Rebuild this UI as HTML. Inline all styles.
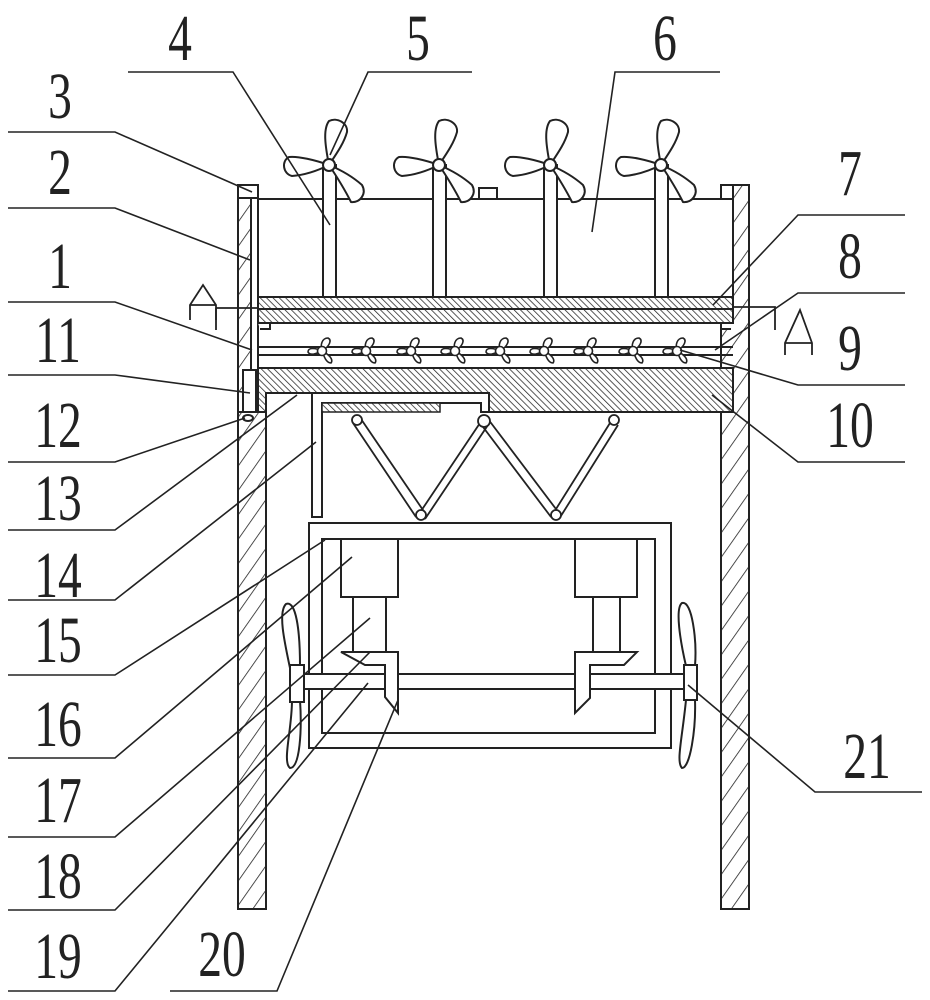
<!DOCTYPE html>
<html><head><meta charset="utf-8"><style>html,body{margin:0;padding:0;background:#fff}svg{display:block}</style></head>
<body>
<svg width="930" height="1000" viewBox="0 0 930 1000" xmlns="http://www.w3.org/2000/svg">
<defs>
<pattern id="hf" width="4.5" height="4.5" patternUnits="userSpaceOnUse" patternTransform="rotate(-45)"><rect width="4.5" height="4.5" fill="#fff"/><line x1="0" y1="0" x2="0" y2="4.5" stroke="#222" stroke-width="1.5"/></pattern>
<pattern id="hp" width="14" height="14" patternUnits="userSpaceOnUse" patternTransform="rotate(35)"><rect width="14" height="14" fill="#fff"/><line x1="0" y1="0" x2="0" y2="14" stroke="#222" stroke-width="1.6"/></pattern>
<g id="fan" fill="#fff" stroke="#222" stroke-width="2">
<path d="M0,0 C-4,-20 -6,-36 0,-44 C8,-48 19,-42 18,-33 C15,-22 8,-12 0,0Z"/>
<path d="M0,0 C-14,-5 -31,-9 -40,-8 C-48,-4 -46,9 -37,11 C-24,10 -12,6 0,0Z"/>
<path d="M0,0 C8,12 16,25 22,37 C31,38 38,29 33,20 C24,12 12,5 0,0Z"/>
<circle cx="0" cy="0" r="6"/>
</g>
<g id="sf" fill="#fff" stroke="#222" stroke-width="1.6">
<path d="M0,0 C-2,-6 0,-13 6,-13 C10,-11 8,-5 0,0Z"/>
<path d="M0,0 C-6,-3 -14,-4 -14,1 C-12,5 -6,3 0,0Z"/>
<path d="M0,0 C2,5 4,12 9,12 C12,8 6,3 0,0Z"/>
<circle cx="0" cy="0" r="4.5"/>
</g>
</defs>

<g stroke="#222" stroke-width="2" fill="none">
<rect x="238" y="185" width="13" height="227" fill="url(#hp)"/>
<rect x="251" y="198" width="7" height="214" fill="#fff"/>
<rect x="238" y="185" width="20" height="13" fill="#fff"/>
<rect x="238" y="412" width="28" height="497" fill="url(#hp)"/>
<rect x="243" y="370" width="13" height="42" fill="#fff"/>
<ellipse cx="248" cy="418" rx="5" ry="3" fill="#fff"/>
<rect x="721" y="185" width="28" height="724" fill="url(#hp)"/>
<rect x="721" y="185" width="12" height="14" fill="#fff"/>

<rect x="258" y="199" width="475" height="98" fill="#fff"/>
<rect x="479" y="188" width="18" height="11" fill="#fff"/>
<rect x="323" y="165" width="13" height="132" fill="#fff"/>
<rect x="433" y="165" width="13" height="132" fill="#fff"/>
<rect x="544" y="165" width="13" height="132" fill="#fff"/>
<rect x="655" y="165" width="13" height="132" fill="#fff"/>
<rect x="258" y="297" width="475" height="26" fill="url(#hf)"/>
<line x1="258" y1="309" x2="733" y2="309"/>
<path d="M258,323 L270,323 L270,329 L260,329" fill="#fff"/>
<path d="M733,323 L721,323 L721,329 L731,329" fill="#fff"/>
<line x1="258" y1="347" x2="733" y2="347"/>
<line x1="258" y1="355" x2="733" y2="355"/>
<path d="M258,368 H733 V412 H489 V393 H266 V412 H258Z" fill="url(#hf)"/>
<path d="M312,393 H489 V412 H481 V403 H322 V517 H312Z" fill="#fff"/>
<rect x="322" y="403" width="118" height="9" fill="url(#hf)" stroke-width="1.5"/>
<g stroke-width="1.8">
<path d="M353,423 L416,517 M361,419 L425,513"/>
<path d="M480,423 L417,517 M488,425 L425,519"/>
<path d="M480,423 L551,517 M488,419 L559,513"/>
<path d="M610,423 L551,517 M618,425 L559,519"/>
</g>
<g fill="#fff" stroke-width="1.8">
<circle cx="357" cy="420" r="5"/><circle cx="484" cy="421" r="6"/><circle cx="614" cy="420" r="5"/>
<circle cx="421" cy="515" r="5"/><circle cx="556" cy="515" r="5"/>
</g>
<rect x="309" y="523" width="362" height="225" fill="#fff"/>
<rect x="322" y="539" width="333" height="194" fill="#fff"/>
<rect x="341" y="539" width="57" height="58" fill="#fff"/>
<rect x="575" y="539" width="62" height="58" fill="#fff"/>
<rect x="353" y="597" width="33" height="55" fill="#fff"/>
<rect x="593" y="597" width="27" height="55" fill="#fff"/>
<rect x="304" y="674" width="380" height="15" fill="#fff"/>
<path d="M341,652 H398 V713 L385,697 V665 H365Z" fill="#fff"/>
<path d="M575,652 H637 L624,665 H590 V698 L575,713Z" fill="#fff"/>
<path d="M290,668 C284,640 278,612 286,604 C296,600 300,630 300,666Z" fill="#fff"/>
<path d="M292,700 C292,730 282,762 290,768 C300,768 302,730 300,700Z" fill="#fff"/>
<path d="M686,666 C680,640 675,608 682,603 C692,600 697,640 695,666Z" fill="#fff"/>
<path d="M686,700 C682,740 676,762 682,768 C690,768 696,730 695,700Z" fill="#fff"/>
<rect x="290" y="665" width="14" height="37" fill="#fff"/>
<rect x="684" y="665" width="13" height="35" fill="#fff"/>

<path d="M190,320 V305 L203,285 L216,305 V320 M190,305 H216" stroke-width="1.8"/>
<path d="M216,308 H258 M216,308 V330" stroke-width="1.8"/>
<path d="M733,307 H775 V330" stroke-width="1.8"/>
<path d="M785,355 V343 L800,310 L812,343 V355 M785,343 H812" stroke-width="1.8"/>
</g>

<use href="#fan" x="329" y="165"/>
<use href="#fan" x="439" y="165"/>
<use href="#fan" x="550" y="165"/>
<use href="#fan" x="661" y="165"/>
<use href="#sf" x="322" y="351"/><use href="#sf" x="366" y="351"/><use href="#sf" x="411" y="351"/>
<use href="#sf" x="455" y="351"/><use href="#sf" x="500" y="351"/><use href="#sf" x="544" y="351"/>
<use href="#sf" x="588" y="351"/><use href="#sf" x="633" y="351"/><use href="#sf" x="677" y="351"/>

<g stroke="#222" stroke-width="1.6" fill="none">
<path d="M128,72 H233 L330,225"/>
<path d="M472,72 H368 L330,155"/>
<path d="M720,72 H615 L592,232"/>
<path d="M8,132 H115 L252,192"/>
<path d="M8,208 H115 L250,260"/>
<path d="M8,302 H115 L252,350"/>
<path d="M8,375 H115 L250,393"/>
<path d="M8,462 H115 L245,418"/>
<path d="M8,530 H115 L297,395"/>
<path d="M8,600 H115 L316,442"/>
<path d="M8,675 H115 L325,540"/>
<path d="M8,758 H115 L352,557"/>
<path d="M8,837 H115 L370,618"/>
<path d="M8,910 H115 L370,652"/>
<path d="M8,991 H115 L368,683"/>
<path d="M170,991 H277 L398,700"/>
<path d="M922,792 H815 L688,685"/>
<path d="M905,215 H798 L713,305"/>
<path d="M905,293 H798 L715,350"/>
<path d="M905,385 H798 L680,350"/>
<path d="M905,462 H798 L712,395"/>
</g>

<g font-family="'Liberation Serif', serif" font-size="66" fill="#222" text-anchor="middle">
<text transform="translate(180,60) scale(0.72,1)">4</text>
<text transform="translate(418,60) scale(0.72,1)">5</text>
<text transform="translate(665,60) scale(0.72,1)">6</text>
<text transform="translate(60,118) scale(0.72,1)">3</text>
<text transform="translate(60,194) scale(0.72,1)">2</text>
<text transform="translate(60,288) scale(0.72,1)">1</text>
<text transform="translate(58,362) scale(0.72,1)">11</text>
<text transform="translate(58,447) scale(0.72,1)">12</text>
<text transform="translate(58,520) scale(0.72,1)">13</text>
<text transform="translate(58,597) scale(0.72,1)">14</text>
<text transform="translate(58,662) scale(0.72,1)">15</text>
<text transform="translate(58,746) scale(0.72,1)">16</text>
<text transform="translate(58,822) scale(0.72,1)">17</text>
<text transform="translate(58,898) scale(0.72,1)">18</text>
<text transform="translate(58,978) scale(0.72,1)">19</text>
<text transform="translate(222,976) scale(0.72,1)">20</text>
<text transform="translate(867,778) scale(0.72,1)">21</text>
<text transform="translate(850,195) scale(0.72,1)">7</text>
<text transform="translate(850,278) scale(0.72,1)">8</text>
<text transform="translate(850,370) scale(0.72,1)">9</text>
<text transform="translate(850,447) scale(0.72,1)">10</text>
</g>
</svg>
</body></html>
